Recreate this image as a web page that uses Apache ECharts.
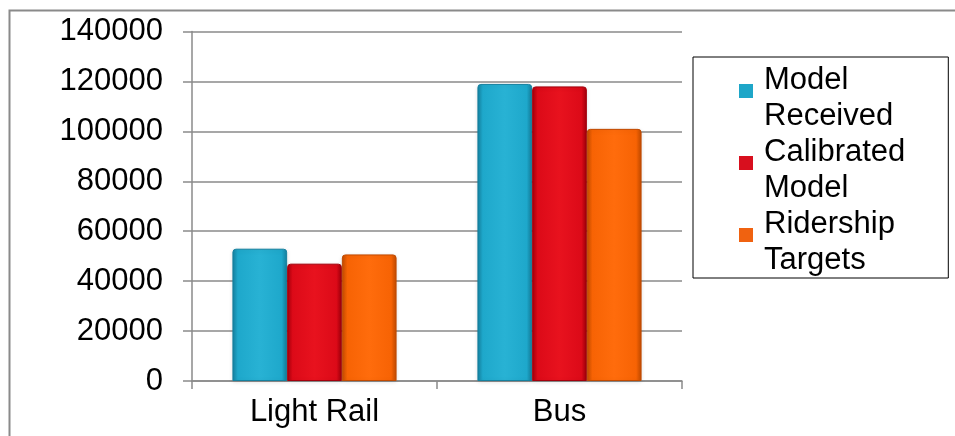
<!DOCTYPE html>
<html>
<head>
<meta charset="utf-8">
<script src="https://cdn.jsdelivr.net/npm/echarts@6/dist/echarts.min.js"></script>
<style>
  html, body { margin: 0; padding: 0; background: #fff; }
  #chart { width: 955px; height: 436px; }
</style>
</head>
<body>
<div id="chart"></div>
<script>
// Ridership by mode
const categories = ['Light Rail', 'Bus'];
const seriesNames = ['Model Received', 'Calibrated Model', 'Ridership Targets'];
const modelReceived = [53000, 119000];
const calibratedModel = [47000, 118000];
const ridershipTargets = [50700, 101000];
const yTicks = [0, 20000, 40000, 60000, 80000, 100000, 120000, 140000];

const FONT = '"Liberation Sans", Arial, sans-serif';
const G = echarts.graphic;

// bevelled bar fills: darker edges, flat body
const palettes = [
  { edge: '#15809f', mid: '#1ea8cb', light: '#28b2d4', key: '#1ea6c8' },
  { edge: '#a3000c', mid: '#dc0a18', light: '#e8121e', key: '#d80f1e' },
  { edge: '#c04a00', mid: '#f76304', light: '#ff6c0c', key: '#f06210' }
];
function barFill(p) {
  return new G.LinearGradient(0, 0, 1, 0, [
    { offset: 0, color: p.edge },
    { offset: 0.1, color: p.mid },
    { offset: 0.5, color: p.light },
    { offset: 0.9, color: p.mid },
    { offset: 1, color: p.edge }
  ]);
}

const values = [modelReceived, calibratedModel, ridershipTargets];

const series = seriesNames.map((name, i) => ({
  name: name,
  type: 'bar',
  data: values[i],
  barGap: '0%',
  barCategoryGap: '33%',
  itemStyle: {
    color: barFill(palettes[i]),
    borderColor: palettes[i].edge,
    borderWidth: 1,
    borderRadius: [3, 3, 0, 0],
    shadowColor: 'rgba(0,0,0,0.12)',
    shadowBlur: 4,
    shadowOffsetY: 1
  },
  emphasis: { disabled: true }
}));

// legend entries: marker square + two-line label
const rich = {
  g: { width: 11 },
  p: { width: 25 }
};
palettes.forEach((p, i) => {
  rich['s' + i] = { width: 14, height: 14, backgroundColor: p.key, verticalAlign: 'bottom' };
});

const option = {
  animation: false,
  textStyle: { fontFamily: FONT },
  grid: { left: 192, right: 273, top: 31.5, bottom: 55, containLabel: false },
  legend: {
    orient: 'vertical',
    left: 693,
    top: 57,
    padding: [5, 43, 0, 39],
    itemGap: 0,
    itemWidth: 1,
    itemHeight: 1,
    itemStyle: { opacity: 0 },
    borderColor: '#000',
    borderWidth: 1,
    selectedMode: false,
    data: seriesNames,
    formatter: function (name) {
      const i = seriesNames.indexOf(name);
      const parts = name.split(' ');
      return '{s' + i + '|}{g|}' + parts[0] + '\n{p|}' + parts[1];
    },
    textStyle: {
      fontFamily: FONT,
      fontSize: 31,
      lineHeight: 36,
      color: '#000',
      rich: rich
    }
  },
  xAxis: {
    type: 'category',
    data: categories,
    axisLine: { lineStyle: { color: '#8a8a8a', width: 1.5 } },
    axisTick: { show: true, length: 8, lineStyle: { color: '#8a8a8a', width: 1.5 } },
    axisLabel: { color: '#000', fontSize: 31, fontFamily: FONT, margin: 16 }
  },
  yAxis: {
    type: 'value',
    min: yTicks[0],
    max: yTicks[yTicks.length - 1],
    interval: yTicks[1] - yTicks[0],
    axisLine: { show: true, lineStyle: { color: '#8a8a8a', width: 1.5 } },
    axisTick: { show: true, length: 9, lineStyle: { color: '#8a8a8a', width: 1.5 } },
    axisLabel: {
      color: '#000', fontSize: 31, fontFamily: FONT, margin: 29,
      formatter: function (v) { return String(v); }
    },
    splitLine: { lineStyle: { color: '#8a8a8a', width: 1.5 } }
  },
  graphic: [
    {
      type: 'rect',
      left: 7,
      top: 8,
      silent: true,
      z: -10,
      shape: { width: 1100, height: 600 },
      style: { fill: 'none', stroke: '#8a8a8a', lineWidth: 2 }
    }
  ],
  series: series
};

const chart = echarts.init(document.getElementById('chart'), null, { renderer: 'canvas' });
chart.setOption(option);
</script>
</body>
</html>
